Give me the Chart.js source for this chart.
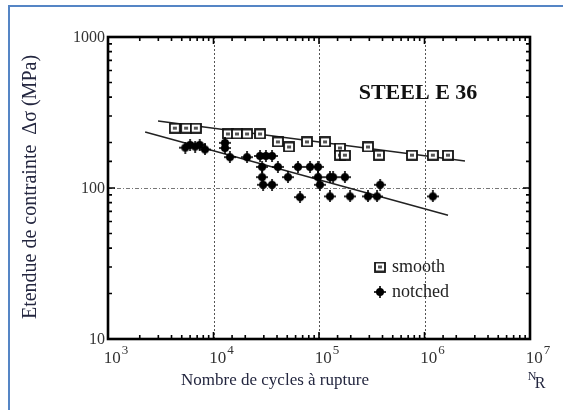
<!DOCTYPE html>
<html>
<head>
<meta charset="utf-8">
<script src="https://cdn.jsdelivr.net/npm/chart.js@4"></script>
<style>
  html, body { margin: 0; padding: 0; background: #fff; }
  #wrap { width: 563px; height: 410px; }
</style>
</head>
<body>
<div id="wrap"><canvas id="sn"></canvas></div>
<script>
// S-N data, steel E 36 (cycles to failure, stress range in MPa)
const smoothCycles = [4300, 5500, 6800, 13700, 16700, 20800, 27600, 40800, 52000, 76900, 114000, 158000, 158000, 176000, 291000, 370000, 761000, 1200000, 1670000];
const smoothStress = [249, 249, 249, 228, 228, 228, 228, 202, 187, 202, 202, 184, 165, 165, 187, 165, 165, 165, 165];

const notchedCycles = [5400, 6000, 6700, 7400, 8300, 12850, 12850, 14300, 20800, 27600, 31400, 35900, 28900, 28900, 29500, 35900, 40800, 50800, 63200, 66100, 82200, 97900, 97900, 102000, 127000, 136000, 176000, 127000, 197000, 291000, 355000, 380000, 1200000];
const notchedStress = [185, 193, 188, 193, 180, 199, 184, 160, 160, 163, 163, 163, 138, 118, 105, 105, 138, 118, 138, 87, 138, 138, 118, 105, 118, 118, 118, 88, 88, 88, 88, 105, 88];

// fitted lines (end points)
const smoothFitCycles = [2980, 2420000];
const smoothFitStress = [278, 151];
const notchedFitCycles = [2250, 1670000];
const notchedFitStress = [235, 66];

const cycleTicks = [1e3, 1e4, 1e5, 1e6, 1e7];
const stressTicks = [10, 100, 1000];
const seriesLabels = ['smooth', 'notched'];

const serif = '"Liberation Serif", "DejaVu Serif", serif';

function pts(xs, ys) {
  return xs.map((x, i) => ({ x: x, y: ys[i] }));
}

// marker images
function squareMark() {
  const c = document.createElement('canvas');
  c.width = 12; c.height = 11;
  const g = c.getContext('2d');
  g.fillStyle = '#fff';
  g.fillRect(1, 1, 10, 9);
  g.strokeStyle = '#111';
  g.lineWidth = 1.8;
  g.strokeRect(1, 1, 10, 9);
  g.fillStyle = '#555';
  g.fillRect(4, 4, 4, 3);
  return c;
}
function starMark() {
  const c = document.createElement('canvas');
  c.width = 12; c.height = 12;
  const g = c.getContext('2d');
  g.fillStyle = '#000';
  g.beginPath();
  g.arc(6, 6, 4, 0, Math.PI * 2);
  g.fill();
  g.fillRect(5.2, 0, 1.6, 12);
  g.fillRect(0, 5.2, 12, 1.6);
  return c;
}
const sqImg = squareMark();
const stImg = starMark();

function isDecade(v) {
  const l = Math.log10(v);
  return Math.abs(l - Math.round(l)) < 1e-6;
}

const decor = {
  id: 'decor',
  beforeDraw(chart) {
    const ctx = chart.ctx;
    ctx.save();
    ctx.fillStyle = '#fff';
    ctx.fillRect(0, 0, chart.width, chart.height);
    // blue frame
    ctx.fillStyle = '#5585c5';
    ctx.fillRect(8, 5, 2, chart.height - 5);
    ctx.fillRect(8, 5, chart.width - 8, 2);
    ctx.restore();
  },
  beforeDatasetsDraw(chart) {
    const ctx = chart.ctx, a = chart.chartArea;
    const xs = chart.scales.x, ys = chart.scales.y;
    ctx.save();
    ctx.strokeStyle = '#555';
    ctx.lineWidth = 1;
    ctx.setLineDash([2, 2]);
    cycleTicks.slice(1, -1).forEach(v => {
      const px = Math.round(xs.getPixelForValue(v)) + 0.5;
      ctx.beginPath(); ctx.moveTo(px, a.top); ctx.lineTo(px, a.bottom); ctx.stroke();
    });
    ctx.strokeStyle = '#777';
    ctx.setLineDash([4, 2, 1, 2]);
    stressTicks.slice(1, -1).forEach(v => {
      const py = Math.round(ys.getPixelForValue(v)) + 0.5;
      ctx.beginPath(); ctx.moveTo(a.left, py); ctx.lineTo(a.right, py); ctx.stroke();
    });
    ctx.restore();
  },
  afterDatasetsDraw(chart) {
    const ctx = chart.ctx, a = chart.chartArea;
    const xs = chart.scales.x, ys = chart.scales.y;
    ctx.save();
    ctx.strokeStyle = '#000';
    // inward ticks
    ctx.lineWidth = 1.6;
    xs.ticks.forEach(t => {
      const px = xs.getPixelForValue(t.value);
      if (px <= a.left + 1 || px >= a.right - 1) return;
      const len = isDecade(t.value) ? 7 : 4;
      ctx.beginPath();
      ctx.moveTo(px, a.bottom); ctx.lineTo(px, a.bottom - len);
      ctx.moveTo(px, a.top); ctx.lineTo(px, a.top + len);
      ctx.stroke();
    });
    ys.ticks.forEach(t => {
      const py = ys.getPixelForValue(t.value);
      if (py <= a.top + 1 || py >= a.bottom - 1) return;
      const len = isDecade(t.value) ? 7 : 4;
      ctx.beginPath();
      ctx.moveTo(a.left, py); ctx.lineTo(a.left + len, py);
      ctx.moveTo(a.right, py); ctx.lineTo(a.right - len, py);
      ctx.stroke();
    });
    // box
    ctx.lineWidth = 2.6;
    ctx.strokeRect(a.left, a.top, a.right - a.left, a.bottom - a.top);
    ctx.restore();
  },
  afterDraw(chart) {
    const ctx = chart.ctx, a = chart.chartArea;
    const xs = chart.scales.x, ys = chart.scales.y;
    ctx.save();
    ctx.fillStyle = '#333';
    // y tick labels
    ctx.font = '16px ' + serif;
    ctx.textAlign = 'right';
    ctx.textBaseline = 'middle';
    stressTicks.forEach(v => {
      ctx.fillText(String(v), a.left - 3, ys.getPixelForValue(v) + 1);
    });
    // x tick labels 10^n
    cycleTicks.forEach(v => {
      const px = xs.getPixelForValue(v) + 8;
      const exp = String(Math.round(Math.log10(v)));
      ctx.font = '17px ' + serif;
      const wb = ctx.measureText('10').width;
      ctx.font = '13px ' + serif;
      const we = ctx.measureText(exp).width;
      const x0 = px - (wb + we + 1) / 2;
      ctx.textAlign = 'left';
      ctx.textBaseline = 'alphabetic';
      ctx.font = '17px ' + serif;
      ctx.fillText('10', x0, a.bottom + 24);
      ctx.font = '13px ' + serif;
      ctx.fillText(exp, x0 + wb + 1, a.bottom + 15);
    });
    // axis titles
    ctx.fillStyle = '#23263f';
    ctx.font = '17px ' + serif;
    ctx.textAlign = 'center';
    ctx.textBaseline = 'middle';
    ctx.fillText('Nombre de cycles à rupture', 275, 381);
    ctx.font = '12px ' + serif;
    ctx.fillText('N', 532, 377);
    ctx.font = '16px ' + serif;
    ctx.fillText('R', 540, 384);
    ctx.save();
    ctx.translate(31, 187);
    ctx.rotate(-Math.PI / 2);
    ctx.font = '20px ' + serif;
    ctx.fillText('Etendue de contrainte  \u0394\u03c3 (MPa)', 0, 0);
    ctx.restore();
    // title
    ctx.fillStyle = '#111';
    ctx.font = 'bold 22px ' + serif;
    ctx.fillText('STEEL E 36', 418, 93);
    // legend
    ctx.font = '18px ' + serif;
    ctx.textAlign = 'left';
    ctx.fillStyle = '#222';
    const marks = [sqImg, stImg];
    seriesLabels.forEach((lab, i) => {
      const y = 267 + i * 25;
      const m = marks[i];
      ctx.drawImage(m, 380 - m.width / 2, y - m.height / 2);
      ctx.fillText(lab, 392, y);
    });
    ctx.restore();
  }
};

new Chart(document.getElementById('sn'), {
  type: 'scatter',
  data: {
    datasets: [
      {
        label: seriesLabels[0] + ' fit',
        data: pts(smoothFitCycles, smoothFitStress),
        showLine: true, borderColor: '#222', borderWidth: 1.5,
        pointRadius: 0, order: 3
      },
      {
        label: seriesLabels[1] + ' fit',
        data: pts(notchedFitCycles, notchedFitStress),
        showLine: true, borderColor: '#222', borderWidth: 1.5,
        pointRadius: 0, order: 3
      },
      {
        label: seriesLabels[0],
        data: pts(smoothCycles, smoothStress),
        pointStyle: sqImg, order: 2
      },
      {
        label: seriesLabels[1],
        data: pts(notchedCycles, notchedStress),
        pointStyle: stImg, order: 1
      }
    ]
  },
  options: {
    responsive: true,
    maintainAspectRatio: false,
    animation: false,
    layout: { padding: { left: 108, right: 33, top: 37, bottom: 71 } },
    plugins: { legend: { display: false }, tooltip: { enabled: false } },
    scales: {
      x: {
        type: 'logarithmic', min: 1e3, max: 1e7,
        ticks: { display: false },
        grid: { display: false, drawTicks: false },
        border: { display: false }
      },
      y: {
        type: 'logarithmic', min: 10, max: 1000,
        ticks: { display: false },
        grid: { display: false, drawTicks: false },
        border: { display: false }
      }
    }
  },
  plugins: [decor]
});
</script>
</body>
</html>
